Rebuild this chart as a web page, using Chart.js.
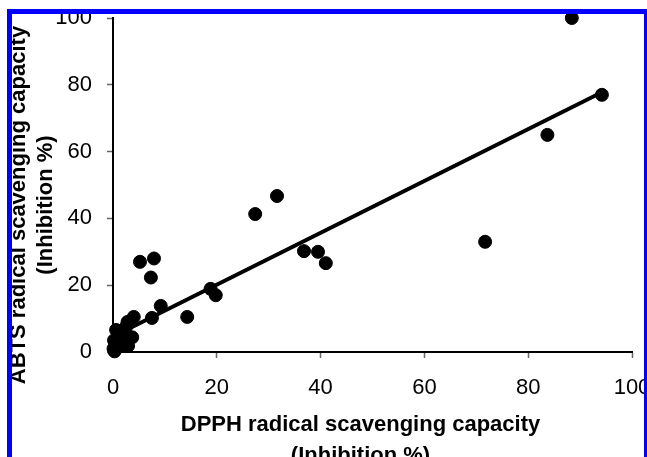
<!DOCTYPE html>
<html>
<head>
<meta charset="utf-8">
<script src="https://cdn.jsdelivr.net/npm/chart.js@4.4.1/dist/chart.umd.min.js"></script>
<style>
  html, body { margin: 0; padding: 0; background: #fff; }
  #wrap { position: relative; width: 647px; height: 457px; overflow: hidden; }
  #frame {
    position: absolute; left: 7px; top: 9px; width: 642px; height: 470px;
    border: 5px solid #0000ff; box-sizing: border-box; pointer-events: none; z-index: 2;
  }
  canvas { position: absolute; left: 0; top: 0; }
</style>
</head>
<body>
<div id="wrap">
  <canvas id="scatter" width="647" height="480"></canvas>
  <div id="frame"></div>
</div>
<script>
// DPPH (x) vs ABTS (y) inhibition %
let dpphValues = [
    88.4, 94.2, 83.7, 71.7, 31.6, 27.4, 36.8, 39.5, 41.0, 18.8,
    19.8, 14.3, 9.2, 7.9, 5.2, 7.3, 7.5, 4.0, 2.8, 3.7,
    0.6, 0.2, 0.1, 1.1, 2.0, 2.9, 0.3, 1.6, 2.5
];

let abtsValues = [
    100, 77, 65, 33, 46.7, 41.3, 30.2, 30.0, 26.6, 18.9,
    17.0, 10.5, 13.8, 28.0, 27.0, 22.3, 10.2, 10.5, 9.0, 4.4,
    6.6, 3.5, 1.0, 1.6, 3.2, 1.8, 0.2, 5.2, 7.5
];

// linear trend line end points
let trendX = [0.5, 94.5];
let trendY = [5.0, 78.0];

let tickValues = [0, 20, 40, 60, 80, 100];

let xTitle = ['DPPH radical scavenging capacity', '(Inhibition %)'];
let yTitle = ['ABTS radical scavenging capacity', '(Inhibition %)'];

const pointData = dpphValues.map((x, i) => ({ x: x, y: abtsValues[i] }));
const trendData = trendX.map((x, i) => ({ x: x, y: trendY[i] }));

const fontFamily = '"Liberation Sans", Arial, Helvetica, sans-serif';

const axisTitles = {
    id: 'axisTitles',
    afterDraw(chart) {
        const ctx = chart.ctx;
        const area = chart.chartArea;
        ctx.save();
        ctx.fillStyle = '#000';
        ctx.font = 'bold 22px ' + fontFamily;
        ctx.textAlign = 'center';
        ctx.textBaseline = 'middle';
        // x title, a bit left of the plot centre
        const cx = (area.left + area.right) / 2 - 12;
        xTitle.forEach((line, i) => ctx.fillText(line, cx, 425 + i * 31));
        // y title, rotated
        const cy = (area.top + area.bottom) / 2 + 20;
        ctx.translate(19, cy);
        ctx.rotate(-Math.PI / 2);
        yTitle.forEach((line, i) => ctx.fillText(line, 0, i * 27));
        ctx.restore();
    }
};

function axisOptions(size, isX) {
    return {
        type: 'linear',
        min: 0,
        max: 100,
        afterBuildTicks: (scale) => {
            scale.ticks = tickValues.map(v => ({ value: v }));
        },
        afterFit: (scale) => {
            if (isX) scale.height = size; else scale.width = size;
            // let the labels hang over the edges instead of shrinking the plot
            scale.paddingLeft = 0;
            scale.paddingRight = 0;
            scale.paddingTop = 0;
            scale.paddingBottom = 0;
        },
        ticks: {
            color: '#000',
            font: { family: fontFamily, size: 22 },
            padding: isX ? 17 : 15,
            maxRotation: 0
        },
        grid: {
            drawOnChartArea: false,
            drawTicks: true,
            tickLength: 6,
            tickColor: '#666',
            tickWidth: 1.5
        },
        border: { color: '#000', width: 2 }
    };
}

const config = {
    type: 'scatter',
    data: {
        datasets: [
            {
                data: pointData,
                backgroundColor: '#000',
                borderColor: '#000',
                pointRadius: 6.5,
                pointHoverRadius: 6.5,
                clip: false
            },
            {
                data: trendData,
                showLine: true,
                borderColor: '#000',
                borderWidth: 4,
                pointRadius: 0,
                fill: false,
                clip: false
            }
        ]
    },
    options: {
        responsive: false,
        animation: false,
        devicePixelRatio: 1,
        layout: { padding: { top: 18, right: 15, left: 0, bottom: 0 } },
        plugins: {
            legend: { display: false },
            tooltip: { enabled: false }
        },
        scales: {
            x: axisOptions(128, true),
            y: axisOptions(113, false)
        }
    },
    plugins: [axisTitles]
};

const chart = new Chart(document.getElementById('scatter'), config);
</script>
</body>
</html>
